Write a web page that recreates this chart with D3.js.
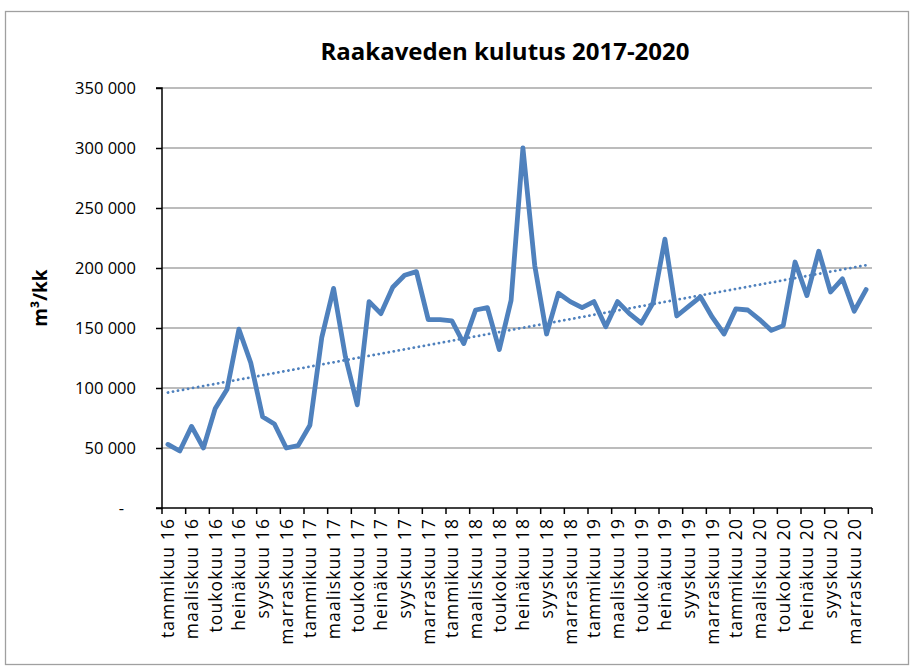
<!DOCTYPE html>
<html><head><meta charset="utf-8">
<script src="https://cdn.jsdelivr.net/npm/d3@7"></script>
<style>body{margin:0;background:#fff}svg{display:block}</style>
</head><body>
<svg id="c" width="914" height="670"></svg>
<script>
const title = "Raakaveden kulutus 2017-2020";
const yTitle = "m³/kk";
const categories = [
 "tammikuu 16","helmikuu 16","maaliskuu 16","huhtikuu 16","toukokuu 16","kesäkuu 16","heinäkuu 16","elokuu 16","syyskuu 16","lokakuu 16","marraskuu 16","joulukuu 16",
 "tammikuu 17","helmikuu 17","maaliskuu 17","huhtikuu 17","toukokuu 17","kesäkuu 17","heinäkuu 17","elokuu 17","syyskuu 17","lokakuu 17","marraskuu 17","joulukuu 17",
 "tammikuu 18","helmikuu 18","maaliskuu 18","huhtikuu 18","toukokuu 18","kesäkuu 18","heinäkuu 18","elokuu 18","syyskuu 18","lokakuu 18","marraskuu 18","joulukuu 18",
 "tammikuu 19","helmikuu 19","maaliskuu 19","huhtikuu 19","toukokuu 19","kesäkuu 19","heinäkuu 19","elokuu 19","syyskuu 19","lokakuu 19","marraskuu 19","joulukuu 19",
 "tammikuu 20","helmikuu 20","maaliskuu 20","huhtikuu 20","toukokuu 20","kesäkuu 20","heinäkuu 20","elokuu 20","syyskuu 20","lokakuu 20","marraskuu 20","joulukuu 20"
];
const values = [
 53000, 47500, 68000, 50000, 83000, 99000, 149000, 121000, 76000, 70000, 50000, 52000,
 69000, 142000, 183000, 126000, 86000, 172000, 162000, 184000, 194000, 197000, 157000, 157000,
 156000, 137000, 165000, 167000, 132000, 173000, 300000, 202000, 145000, 179000, 172000, 167000,
 172000, 151000, 172000, 162000, 154000, 171000, 224000, 160000, 168000, 176000, 159000, 145000,
 166000, 165000, 157000, 148000, 152000, 205000, 177000, 214000, 180000, 191000, 164000, 182000
];
const yTicks = [0, 50000, 100000, 150000, 200000, 250000, 300000, 350000];

const svg = d3.select("#c");
const FONT = "'Open Sans', 'DejaVu Sans', sans-serif";
const L = 162, R = 872, T = 88, B = 508;
const color = "#4f81bd";

// chart frame
svg.append("rect").attr("x", 5.5).attr("y", 11.5).attr("width", 903).attr("height", 653)
  .attr("fill", "#fff").attr("stroke", "#a0a0a0").attr("stroke-width", 1.3);

const x = d3.scaleBand().domain(categories).range([L, R]).padding(0);
const y = d3.scaleLinear().domain([0, 350000]).range([B, T]);
const cx = d => x(d) + x.bandwidth() / 2;

// gridlines
svg.append("g").selectAll("line").data(yTicks.filter(v => v > 0)).join("line")
  .attr("x1", L).attr("x2", R).attr("y1", d => y(d)).attr("y2", d => y(d))
  .attr("stroke", "#a6a6a6").attr("stroke-width", 1.4);

// y axis
const fmt = v => v === 0 ? "-" : d3.format(",")(v).replace(/,/g, " ");
const yAxis = d3.axisLeft(y).tickValues(yTicks).tickSize(6).tickPadding(0).tickFormat(fmt);
const gy = svg.append("g").attr("transform", `translate(${L},0)`).call(yAxis);
gy.select(".domain").attr("stroke", "#000").attr("stroke-width", 1.5).attr("d", `M-6,${T}H0V${B}H-6`);
gy.selectAll(".tick line").attr("stroke", "#000").attr("stroke-width", 1.5);
gy.selectAll(".tick text").attr("x", -26).attr("font-family", FONT).attr("font-size", 16.5)
  .attr("fill", "#000").attr("text-anchor", "end").attr("dy", "0.35em");
gy.selectAll(".tick text").filter(d => d === 0).attr("x", -38);

// x axis
svg.append("line").attr("x1", L).attr("x2", R).attr("y1", B).attr("y2", B)
  .attr("stroke", "#000").attr("stroke-width", 1.5);
const tickCats = categories.filter((c, i) => i % 2 === 0);
const tickXs = tickCats.map(c => x(c)).concat([R]);
svg.append("g").selectAll("line").data(tickXs).join("line")
  .attr("x1", d => d).attr("x2", d => d).attr("y1", B).attr("y2", B + 6)
  .attr("stroke", "#000").attr("stroke-width", 1.5);
svg.append("g").selectAll("text").data(tickCats).join("text")
  .attr("transform", d => `translate(${cx(d)},${B + 10}) rotate(-90)`)
  .attr("text-anchor", "end").attr("dy", "0.36em")
  .attr("font-family", FONT).attr("font-size", 17.5).attr("letter-spacing", 1.1)
  .attr("fill", "#000").text(d => d);

// trendline (least squares over the series)
const n = values.length;
const idx = d3.range(1, n + 1);
const mx = d3.mean(idx), my = d3.mean(values);
const slope = d3.sum(idx, (k, i) => (k - mx) * (values[i] - my)) / d3.sum(idx, k => (k - mx) ** 2);
const icpt = my - slope * mx;
const trend = [categories[0], categories[n - 1]].map((c, j) => [cx(c), y(icpt + slope * (j === 0 ? 1 : n))]);
svg.append("path").attr("d", d3.line()(trend)).attr("fill", "none")
  .attr("stroke", color).attr("stroke-width", 2.8).attr("stroke-dasharray", "0.1,5")
  .attr("stroke-linecap", "round");

// data line
const line = d3.line().x((d, i) => cx(categories[i])).y(d => y(d));
svg.append("path").datum(values).attr("d", line).attr("fill", "none")
  .attr("stroke", color).attr("stroke-width", 4.8).attr("stroke-linejoin", "round").attr("stroke-linecap", "round");

// titles
svg.append("text").attr("x", 505).attr("y", 52).attr("text-anchor", "middle").attr("dy", "0.35em")
  .attr("font-family", FONT).attr("font-weight", "bold").attr("font-size", 24).attr("fill", "#000").text(title);
svg.append("text").attr("transform", "translate(40,298) rotate(-90)").attr("text-anchor", "middle").attr("dy", "0.35em")
  .attr("font-family", FONT).attr("font-weight", "bold").attr("font-size", 19).attr("fill", "#000").text(yTitle);
</script>
</body></html>
